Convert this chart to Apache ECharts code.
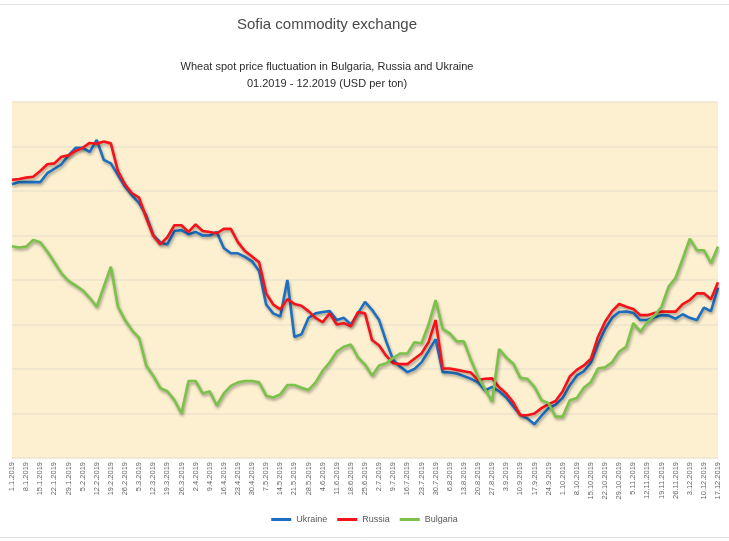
<!DOCTYPE html>
<html>
<head>
<meta charset="utf-8">
<title>Sofia commodity exchange</title>
<script src="https://cdn.jsdelivr.net/npm/echarts@6.0.0/dist/echarts.min.js"></script>
<style>
  html, body { margin: 0; padding: 0; background: #fff; }
  #chart { width: 729px; height: 541px; }
</style>
</head>
<body>
<div id="chart"></div>
<script>
// weekly tick labels (one every 7 days)
const weeks = [
  '1.1.2019', '8.1.2019', '15.1.2019', '22.1.2019', '29.1.2019', '5.2.2019', '12.2.2019',
  '19.2.2019', '26.2.2019', '5.3.2019', '12.3.2019', '19.3.2019', '26.3.2019', '2.4.2019',
  '9.4.2019', '16.4.2019', '23.4.2019', '30.4.2019', '7.5.2019', '14.5.2019', '21.5.2019',
  '28.5.2019', '4.6.2019', '11.6.2019', '18.6.2019', '25.6.2019', '2.7.2019', '9.7.2019',
  '16.7.2019', '23.7.2019', '30.7.2019', '6.8.2019', '13.8.2019', '20.8.2019', '27.8.2019',
  '3.9.2019', '10.9.2019', '17.9.2019', '24.9.2019', '1.10.2019', '8.10.2019', '15.10.2019',
  '22.10.2019', '29.10.2019', '5.11.2019', '12.11.2019', '19.11.2019', '26.11.2019',
  '3.12.2019', '10.12.2019', '17.12.2019',
];

// prices, USD per ton, read twice per week
const ukraine = [
  231.5, 232, 232, 232, 232, 234, 235, 236, 238, 239.7,
  239.7, 238.8, 241.5, 237, 236.2, 233.6, 231, 229, 227.3, 224.5,
  220.1, 218.5, 218, 221, 221.2, 220.3, 220.8, 220, 220, 220.8,
  217.2, 216, 216, 215.2, 214.2, 212, 204.5, 202.5, 201.8, 210,
  197.2, 197.8, 201.5, 202.5, 202.8, 203, 201, 201.5, 200, 202.5,
  205.1, 203.3, 201, 196.2, 192, 190.5, 189.3, 190, 191.5, 194,
  196.7, 189.3, 189.2, 189, 188.4, 187.8, 187, 185.2, 186, 185,
  183.6, 181.6, 179.7, 178.9, 177.6, 179.5, 181.2, 182, 183.5, 186.3,
  188.5, 189.5, 191.5, 195.5, 199, 201.5, 202.8, 202.9, 202.6, 201,
  201, 201.6, 202.1, 202, 201.3, 202.3, 201.5, 201, 203.8, 203,
  208.3,
];
const russia = [
  232.5, 232.7, 233, 233.2, 234.5, 236, 236.2, 237.7, 238, 239,
  239.7, 240.8, 240.6, 241.1, 240.7, 234.5, 231.5, 229.5, 228.5, 224,
  220, 218, 219.6, 222.3, 222.3, 220.8, 222.5, 221, 220.8, 220.5,
  221.5, 221.5, 218.5, 216.5, 215.3, 214, 207, 204.5, 203.4, 205.7,
  204.6, 204.2, 203, 201.5, 200.5, 202.5, 200, 200.3, 199.6, 202.8,
  202.5, 196.5, 195.3, 193, 191.3, 191.1, 191.1, 192.3, 193.5, 196,
  201, 190.1, 190.1, 189.8, 189.5, 189.2, 187.5, 187.8, 187.9, 185.9,
  184.5, 182.5, 179.6, 179.6, 180, 181.2, 182.1, 182.8, 185, 188.3,
  189.8, 190.8, 192.3, 197.2, 200.6, 203, 204.6, 204, 203.5, 202.1,
  202.1, 202.6, 202.9, 202.9, 202.9, 204.6, 205.5, 207, 207, 205.7,
  209.5,
];
const bulgaria = [
  217.6, 217.3, 217.5, 219, 218.5, 216.4, 214, 211.5, 209.8, 208.8,
  207.7, 206, 204, 208.5, 213, 204, 201, 198.7, 197, 190.8,
  188.5, 185.7, 185, 183, 180, 187.3, 187.3, 184.5, 185, 181.8,
  184.5, 186.2, 187, 187.3, 187.3, 187, 184, 183.6, 184.3, 186.4,
  186.4, 185.8, 185.3, 187, 189.6, 191.5, 193.9, 195, 195.5, 192.6,
  191, 188.5, 190.8, 191.3, 192.5, 193.5, 193.5, 196, 195.8, 200,
  205.5, 199, 198, 196.2, 196.2, 192, 188.3, 185.5, 182.7, 194.5,
  192.6, 191.2, 188, 187.8, 186, 183, 182.3, 179.3, 179.3, 183,
  183.5, 185.8, 187.1, 190.1, 190.4, 191.5, 193.9, 195, 200.3, 198.4,
  200.5, 202, 204, 208.5, 210.5, 214.8, 219.3, 216.7, 216.7, 213.8,
  217.5,
];

// two readings per week: the week label, then a mid-week slot
const categories = [];
weeks.forEach((w, i) => {
  categories.push(w);
  if (i < weeks.length - 1) {
    categories.push(w + ' +3');
  }
});

const lineSeries = (name, data, color) => ({
  name: name,
  type: 'line',
  data: data,
  showSymbol: false,
  symbol: 'none',
  smooth: false,
  lineStyle: {
    color: color,
    width: 2.6,
    shadowColor: 'rgba(0, 0, 0, 0.35)',
    shadowBlur: 3,
    shadowOffsetX: 1,
    shadowOffsetY: 2,
  },
  itemStyle: { color: color },
  animation: false,
});

const chart = echarts.init(document.getElementById('chart'));
chart.setOption({
  backgroundColor: '#fff',
  graphic: [
    {
      type: 'line',
      shape: { x1: 0, y1: 4.5, x2: 729, y2: 4.5 },
      style: { stroke: '#e3e3e3', lineWidth: 1 },
    },
    {
      type: 'line',
      shape: { x1: 0, y1: 537.5, x2: 729, y2: 537.5 },
      style: { stroke: '#e3e3e3', lineWidth: 1 },
    },
    {
      type: 'text',
      x: 327,
      y: 25,
      style: {
        text: 'Sofia commodity exchange',
        font: '15px "Liberation Sans", Arial, sans-serif',
        fill: '#4a4a4a',
        textAlign: 'center',
        textVerticalAlign: 'middle',
      },
    },
    {
      type: 'text',
      x: 327,
      y: 67,
      style: {
        text: 'Wheat spot price fluctuation in Bulgaria, Russia and Ukraine',
        font: '11px "Liberation Sans", Arial, sans-serif',
        fill: '#2b2b2b',
        textAlign: 'center',
        textVerticalAlign: 'middle',
      },
    },
    {
      type: 'text',
      x: 327,
      y: 84,
      style: {
        text: '01.2019 - 12.2019 (USD per ton)',
        font: '11px "Liberation Sans", Arial, sans-serif',
        fill: '#2b2b2b',
        textAlign: 'center',
        textVerticalAlign: 'middle',
      },
    },
  ],
  grid: {
    left: 12,
    right: 11,
    top: 102,
    bottom: 83,
    show: true,
    backgroundColor: '#fdf0d0',
    borderWidth: 0,
  },
  legend: {
    bottom: 12,
    left: 'center',
    icon: 'rect',
    itemWidth: 20,
    itemHeight: 3,
    itemGap: 10,
    textStyle: {
      fontFamily: 'Liberation Sans',
      fontSize: 9,
      color: '#595959',
    },
    data: ['Ukraine', 'Russia', 'Bulgaria'],
  },
  xAxis: {
    type: 'category',
    data: categories,
    boundaryGap: false,
    axisLine: { show: false },
    axisTick: { show: false },
    splitLine: { show: false },
    axisLabel: {
      interval: (index) => index % 2 === 0,
      rotate: 90,
      margin: 4,
      fontFamily: 'Liberation Sans',
      fontSize: 7.5,
      color: '#666',
    },
  },
  yAxis: {
    type: 'value',
    min: 170,
    max: 250,
    interval: 10,
    axisLine: { show: false },
    axisTick: { show: false },
    axisLabel: { show: false },
    splitLine: {
      lineStyle: { color: '#ede4cf', width: 1.5 },
    },
  },
  series: [
    lineSeries('Ukraine', ukraine, '#1c6fc1'),
    lineSeries('Russia', russia, '#f5121a'),
    lineSeries('Bulgaria', bulgaria, '#7bc24a'),
  ],
});
</script>
</body>
</html>
